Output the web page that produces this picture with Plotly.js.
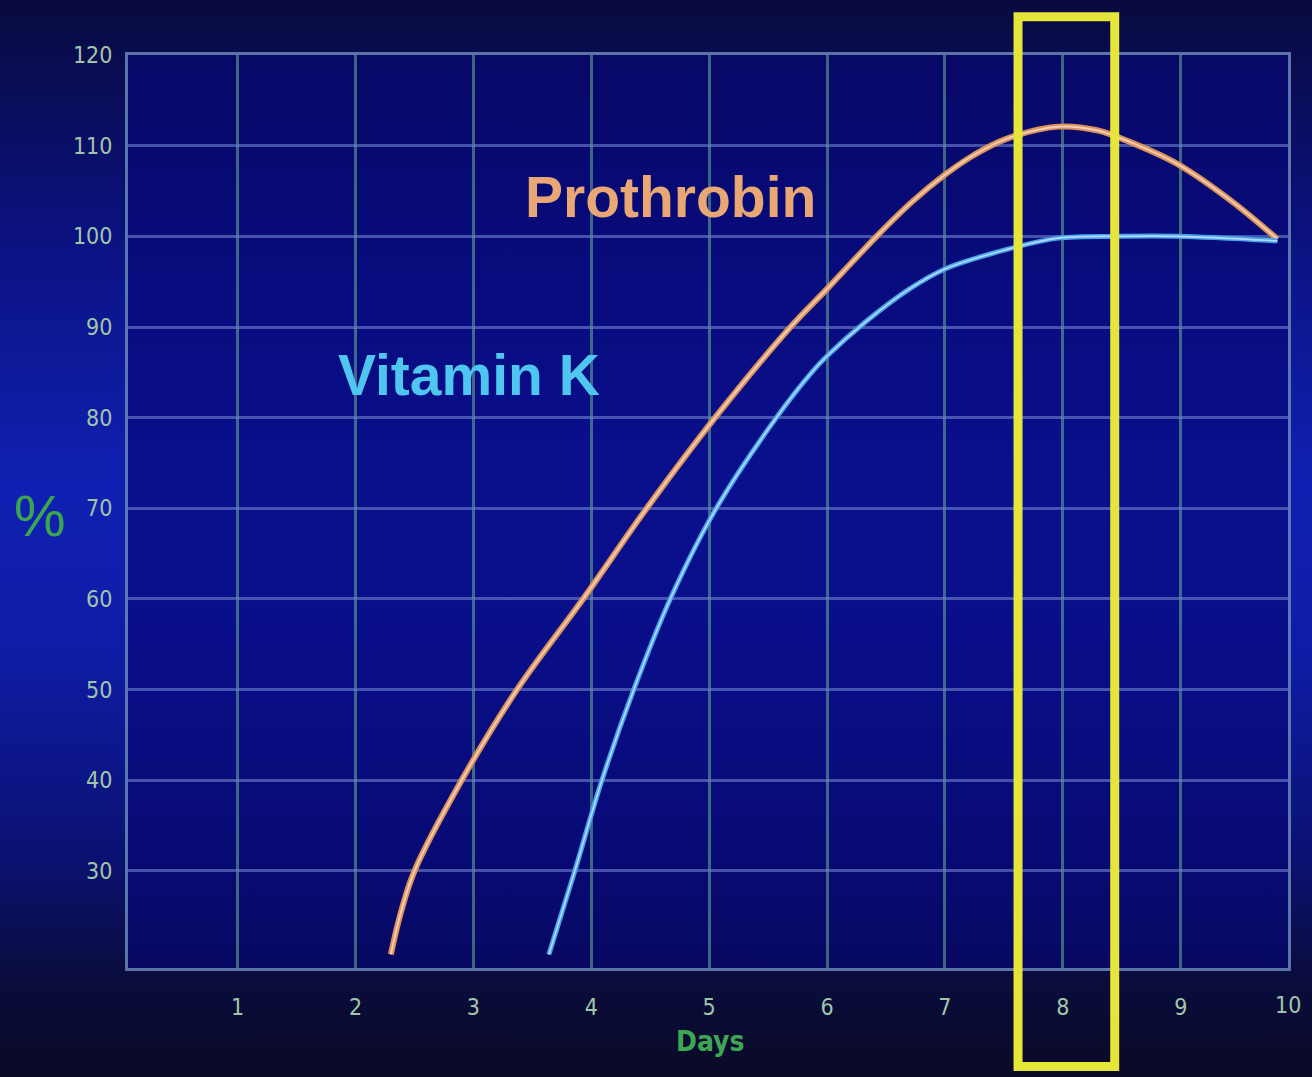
<!DOCTYPE html>
<html>
<head>
<meta charset="utf-8">
<script src="https://cdn.plot.ly/plotly-3.0.1.min.js"></script>
<style>
html, body { margin: 0; padding: 0; width: 1312px; height: 1077px; overflow: hidden;
  background: linear-gradient(180deg, #080a3e 0%, #0b1280 22%, #1020b2 45%, #0f1ca6 60%, #0b1170 80%, #0a0c3c 91%, #0a0a26 100%); }
#chart { width: 1312px; height: 1077px; }
</style>
</head>
<body>
<div id="chart"></div>
<script>
// ---- data ----
const prothrombinDays = [2.30, 2.38, 2.50, 2.90, 3.37, 3.93, 4.47, 5.05, 5.69, 6.00, 6.42, 6.72, 7.00, 7.25, 7.51, 7.96, 8.29, 8.57, 8.97, 9.42, 9.82];
const prothrombinPct  = [20.8, 25.2, 30.0, 40.0, 50.0, 60.0, 70.0, 80.0, 90.0, 94.2, 100.0, 103.8, 106.8, 109.0, 110.7, 112.1, 111.7, 110.4, 108.0, 104.0, 99.7];

const vitaminKDays = [3.64, 3.86, 4.09, 4.36, 4.67, 5.06, 5.57, 5.87, 6.00, 6.33, 6.70, 7.00, 7.51, 7.96, 8.50, 8.97, 9.82];
const vitaminKPct  = [20.8, 30.0, 40.0, 50.0, 60.0, 70.0, 80.0, 85.0, 86.8, 90.6, 94.2, 96.4, 98.5, 99.8, 100.0, 100.0, 99.5];

const xTickVals   = [1, 2, 3, 4, 5, 6, 7, 8, 9, 10];
const xTickLabels = ['1', '2', '3', '4', '5', '6', '7', '8', '9', '10'];
const yTickVals   = [30, 40, 50, 60, 70, 80, 90, 100, 110, 120];

const highlightDays = [7.62, 8.44];   // yellow box around day 8

const seriesNames = ['Prothrobin', 'Vitamin K'];
const xAxisLabel = 'Days';
const yAxisLabel = '%';

// ---- styling ----
const tickFont = {family: '"Liberation Sans Narrow", "DejaVu Sans Condensed", "Liberation Sans", sans-serif', size: 23, color: '#a0c6aa'};
const orange = '#dc9258', orangeCore = '#f6cdb6';
const blue = '#4aa2ea', blueCore = '#b4dcff';

const lineTrace = (x, y, color, width, name) => ({
  x: x, y: y, type: 'scatter', mode: 'lines', name: name,
  line: {color: color, width: width, shape: 'spline', smoothing: 1.0},
  hoverinfo: 'skip', showlegend: false
});

const data = [
  lineTrace(prothrombinDays, prothrombinPct, orange, 6, seriesNames[0]),
  lineTrace(prothrombinDays, prothrombinPct, orangeCore, 2, seriesNames[0]),
  lineTrace(vitaminKDays, vitaminKPct, blue, 5, seriesNames[1]),
  lineTrace(vitaminKDays, vitaminKPct, blueCore, 1.6, seriesNames[1])
];

const lastTick = xTickVals.length - 1;

const layout = {
  width: 1312, height: 1077,
  margin: {l: 128, r: 24, t: 55, b: 109, pad: 0},
  paper_bgcolor: 'rgba(0,0,0,0)',
  plot_bgcolor: 'rgba(6,6,118,0.62)',
  showlegend: false,
  xaxis: {
    range: [0.07, 9.91],
    tickvals: xTickVals.slice(0, lastTick),
    ticktext: xTickLabels.slice(0, lastTick),
    showgrid: true, gridcolor: 'rgba(100,170,145,0.58)', gridwidth: 3,
    zeroline: false, showline: true, mirror: true,
    linecolor: 'rgba(105,135,185,0.85)', linewidth: 3,
    ticks: '', ticklabelstandoff: 16,
    tickfont: tickFont, fixedrange: true
  },
  yaxis: {
    range: [19.3, 120],
    tickvals: yTickVals,
    showgrid: true, gridcolor: 'rgba(110,130,205,0.6)', gridwidth: 3,
    zeroline: false, showline: true, mirror: true,
    linecolor: 'rgba(105,135,185,0.85)', linewidth: 3,
    ticks: '', ticklabelstandoff: 8,
    tickfont: tickFont, fixedrange: true
  },
  shapes: [{
    type: 'rect', xref: 'x', yref: 'paper',
    x0: highlightDays[0], x1: highlightDays[1], y0: -0.108, y1: 1.042,
    line: {color: '#e6e63a', width: 9}, fillcolor: 'rgba(0,0,0,0)', layer: 'above'
  }],
  annotations: [
    {x: 4.67, y: 104.3, xref: 'x', yref: 'y', text: '<b>' + seriesNames[0] + '</b>', showarrow: false,
     font: {family: '"Liberation Sans", Arial, sans-serif', size: 57, color: '#e8a774'}},
    {x: 2.96, y: 84.7, xref: 'x', yref: 'y', text: '<b>' + seriesNames[1] + '</b>', showarrow: false,
     font: {family: '"Liberation Sans", Arial, sans-serif', size: 57, color: '#4fc6ef'}},
    {x: 1.0, y: -0.0405, xref: 'paper', yref: 'paper', text: xTickLabels[lastTick], showarrow: false,
     xanchor: 'center', yanchor: 'middle', font: tickFont},
    {x: 0.502, y: -0.081, xref: 'paper', yref: 'paper', text: '<b>' + xAxisLabel + '</b>', showarrow: false,
     xanchor: 'center', yanchor: 'middle',
     font: {family: '"Liberation Sans Narrow", "DejaVu Sans Condensed", "Liberation Sans", sans-serif', size: 28, color: '#3fa653'}},
    {x: -0.076, y: 0.496, xref: 'paper', yref: 'paper', text: yAxisLabel, showarrow: false,
     xanchor: 'center', yanchor: 'middle',
     font: {family: '"Liberation Sans", Arial, sans-serif', size: 58, color: '#3aa650'}}
  ]
};

Plotly.newPlot('chart', data, layout, {staticPlot: true, displayModeBar: false});
</script>
</body>
</html>
